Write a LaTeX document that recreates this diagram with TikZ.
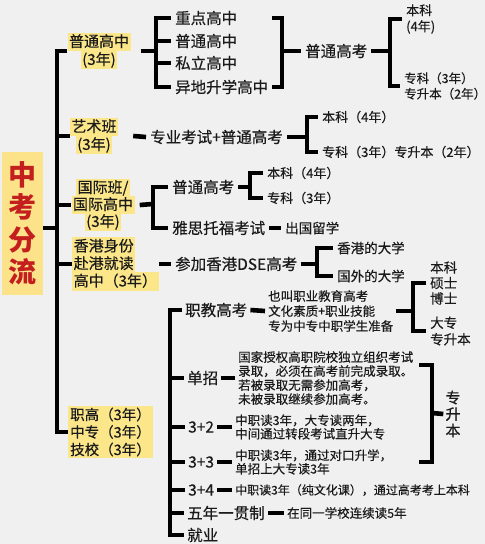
\documentclass[tikz,border=0pt]{standalone}
\usepackage{fontspec}
\setmainfont{Noto Sans CJK SC}[UprightFeatures={FakeBold=0.35}]
\definecolor{bgc}{HTML}{F0F0F0}
\definecolor{hlc}{HTML}{FCE68A}
\definecolor{ttc}{HTML}{FCE38A}
\definecolor{redc}{HTML}{C41F1F}
\definecolor{txc}{HTML}{1A1A1A}
\setlength{\fboxsep}{1.5pt}
\newcommand{\myfs}[2]{\fontsize{#1}{#2}\selectfont\lineskiplimit=-100pt\relax}
\newcommand{\hlb}[1]{\colorbox{hlc}{\vphantom{国(}#1}}
\begin{document}
\begin{tikzpicture}[x=1pt,y=-1pt,
  every node/.style={text=txc},
  br/.style={line width=4.6pt,line join=miter,line cap=butt},
  titlebox/.style={fill=ttc,text=redc,font=\bfseries\myfs{28}{32.5},align=center,minimum width=41pt,minimum height=143pt,inner sep=0pt},
  hlab/.style={inner sep=0pt,font=\myfs{15}{18}},
  lab/.style={anchor=west,inner sep=4pt,font=\myfs{15.5}{18}},
  sub/.style={anchor=west,inner sep=3pt,font=\myfs{15.5}{18}},
  leaf/.style={anchor=west,inner sep=4pt,font=\myfs{13}{16},align=left},
  desc/.style={anchor=west,inner sep=3pt,font=\myfs{12.5}{14},align=left},
]
\fill[bgc] (0,0) rectangle (485,544);
\useasboundingbox (0,0) rectangle (485,544);

% title and spine
\node[titlebox] (tt) at (22.5,223.5) {中\\考\\分\\流};
\coordinate (sp) at (57,228);

\node[hlab,align=center] (pg) at (99,51) {\hlb{普通高中}\\\hlb{(3年)}};
\node[hlab,align=center] (ys) at (94,136) {\hlb{艺术班}\\\hlb{(3年)}};
\node[hlab,align=center,font=\myfs{15}{17}] (gj) at (103,205) {\hlb{国际班/}\\\hlb{国际高中}\\\hlb{(3年)}};
\node[hlab,align=left,anchor=west,font=\myfs{15}{17.5}] (hk) at (72,264) {\hlb{香港身份}\\\hlb{赴港就读}\\\hlb{高中（3年）}};
\node[anchor=west,fill=hlc,inner sep=2pt,align=left,font=\myfs{14.5}{17.5}] (zg) at (68,432) {职高（3年）\\中专（3年）\\技校（3年）};

\draw[br] (tt.east |- sp) -- (sp);
\draw[br] (pg.west) -| (sp) |- (zg.west);
\draw[br] (sp |- ys.west) -- (ys.west);
\draw[br] (sp |- gj.west) -- (gj.west);
\draw[br] (sp |- hk.west) -- (hk.west);

% 普通高中
\coordinate (j1) at (156,51);
\node[lab] (zd) at (171,18) {重点高中};
\node[lab] (pt) at (171,41) {普通高中};
\node[lab] (sl) at (171,63) {私立高中};
\node[lab] (yd) at (171,87) {异地升学高中};
\draw[br] ([xshift=10pt]pg.east) -- (j1);
\draw[br] (zd.west) -| (j1) |- (yd.west);
\draw[br] (j1 |- pt.west) -- (pt.west);
\draw[br] (j1 |- sl.west) -- (sl.west);
\coordinate (j3) at (282,51);
\draw[br] (zd.east -| yd.east) -| (j3) |- (yd.east);
\node[lab] (gk1) at (301,51) {普通高考};
\draw[br] (j3) -- (gk1.west);
\coordinate (j4) at (390,51);
\draw[br] (gk1.east) -- (j4);
\node[leaf] (bk1) at (402,19) {本科\\(4年)};
\node[leaf,font=\myfs{12.5}{15.5}] (zk1) at (400,86) {专科（3年）\\专升本（2年）};
\draw[br] (bk1.west) -| (j4) |- (zk1.west);

% 艺术班
\node[lab] (zy) at (146,137) {专业考试+普通高考};
\draw[br] ([xshift=15pt]ys.east) -- (zy.west);
\coordinate (j5) at (307,137);
\draw[br] (zy.east) -- (j5);
\node[leaf] (bk2) at (318,117) {本科（4年）};
\node[leaf] (zk2) at (318,152) {专科（3年）专升本（2年）};
\draw[br] (bk2.west) -| (j5) |- (zk2.west);

% 国际班
\coordinate (j6) at (153,204);
\node[lab] (gk2) at (168,187) {普通高考};
\node[lab] (ysk) at (168,228) {雅思托福考试};
\draw[br] ([xshift=5pt]gj.east) -- (j6);
\draw[br] (gk2.west) -| (j6) |- (ysk.west);
\coordinate (j7) at (250,187);
\draw[br] (gk2.east) -- (j7);
\node[leaf] (bk3) at (263,173) {本科（4年）};
\node[leaf] (zk3) at (263,198) {专科（3年）};
\draw[br] (bk3.west) -| (j7) |- (zk3.west);
\node[leaf,font=\myfs{13.5}{16}] (cg) at (281,228) {出国留学};
\draw[br] (ysk.east) -- (cg.west);

% 香港
\node[lab] (cj) at (171,264) {参加香港DSE高考};
\draw[br] (hk.east) -- (cj.west);
\coordinate (j8) at (317,264);
\draw[br] (cj.east) -- (j8);
\node[leaf,font=\myfs{13.5}{16}] (xg) at (333,248) {香港的大学};
\node[leaf,font=\myfs{13.5}{16}] (gw) at (333,276) {国外的大学};
\draw[br] (xg.west) -| (j8) |- (gw.west);

% 职高 branch
\coordinate (bv) at (170,420);
\node[sub] (zj) at (182,310) {职教高考};
\node[sub] (dz) at (184,378) {单招};
\node[sub] (s32) at (185,427) {3+2};
\node[sub] (s33) at (185,462) {3+3};
\node[sub] (s34) at (185,490) {3+4};
\node[sub] (wn) at (184,513) {五年一贯制};
\node[sub] (jy) at (184,535) {就业};
\draw[br] (zj.west) -| (bv) |- (jy.west);
\foreach \n in {dz,s32,s33,s34,wn} \draw[br] (bv |- \n.west) -- (\n.west);

\node[desc,font=\myfs{12.5}{15}] (zjd) at (265,311) {也叫职业教育高考\\文化素质+职业技能\\专为中专中职学生准备};
\draw[br] (zj.east) -- (zjd.west);
\coordinate (j9) at (413,311);
\draw[br] (zjd.east) -- (j9);
\node[leaf,font=\myfs{13.5}{15.5}] (dg1) at (426,283) {本科\\硕士\\博士};
\node[leaf,font=\myfs{13.5}{16.5}] (dg2) at (426,331) {大专\\专升本};
\draw[br] (dg1.west) -| (j9) |- (dg2.west);

\node[desc] (dzd) at (235,378) {国家授权高职院校独立组织考试\\录取，必须在高考前完成录取。\\若被录取无需参加高考，\\未被录取继续参加高考。};
\draw[br] (dz.east) -- (dzd.west);
\coordinate (c1) at (419,365);
\coordinate (c2) at (419,462);
\coordinate (j10) at (432,413);
\draw[br] (c1) -| (j10) |- (c2);
\node[inner sep=2pt,align=center,font=\myfs{15}{16.5}] (zsb) at (453,414) {专\\升\\本};
\draw[br] (j10) -- (zsb.west);

\node[desc,font=\myfs{12.5}{13.5}] (d32) at (232,427) {中职读3年，大专读两年，\\中间通过转段考试直升大专};
\draw[br] (s32.east) -- (d32.west);
\node[desc,font=\myfs{12.5}{13.5}] (d33) at (232,462) {中职读3年，通过对口升学，\\单招上大专读3年};
\draw[br] (s33.east) -- (d33.west);
\node[desc,font=\myfs{12}{13.5}] (d34) at (232,490) {中职读3年（纯文化课），通过高考考上本科};
\draw[br] (s34.east) -- (d34.west);
\node[desc] (dwn) at (284,513) {在同一学校连续读5年};
\draw[br] (wn.east) -- (dwn.west);
\end{tikzpicture}
\end{document}
